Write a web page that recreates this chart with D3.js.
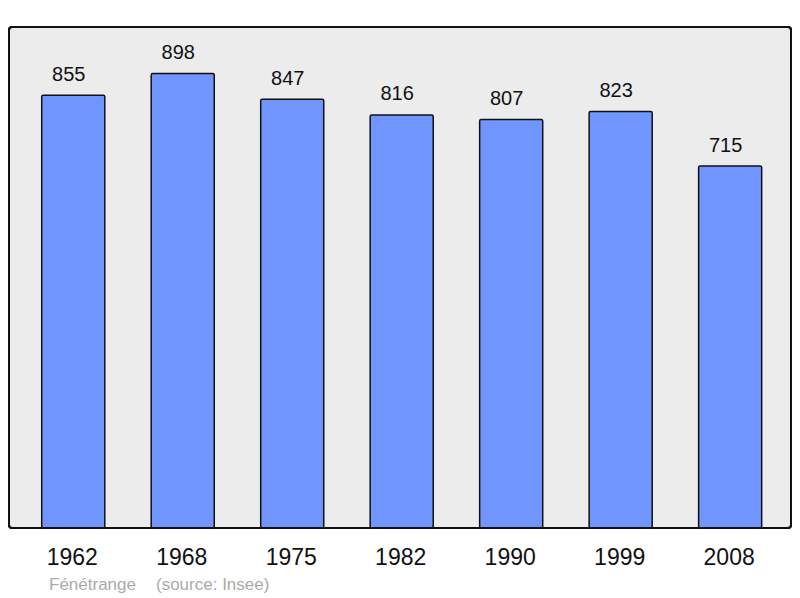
<!DOCTYPE html>
<html><head><meta charset="utf-8">
<script src="https://cdn.jsdelivr.net/npm/d3@7"></script>
<style>body{margin:0;background:#fff}svg{display:block}</style>
</head><body>
<script>
const years = ["1962","1968","1975","1982","1990","1999","2008"];
const population = [855, 898, 847, 816, 807, 823, 715];
const commune = "Fénétrange";
const source = "(source: Insee)";

const W = 800, H = 598;
const svg = d3.select("body").append("svg").attr("width", W).attr("height", H);
const box = {x0: 9, y0: 27, x1: 791, y1: 528};

svg.append("rect").attr("x", box.x0).attr("y", box.y0)
  .attr("width", box.x1 - box.x0).attr("height", box.y1 - box.y0)
  .attr("rx", 3).attr("fill", "#ececec").attr("stroke", "#111").attr("stroke-width", 2);

const x = d3.scaleBand().domain(years).range([14.35, 789.05]).paddingInner(0.424).paddingOuter(0.25);
const y = d3.scaleLinear().domain([0, d3.max(population) * 1.1]).range([box.y1, box.y1 - 500]);

const data = years.map((yr, i) => ({yr, v: population[i]}));

svg.selectAll("rect.bar").data(data).join("rect").attr("class", "bar")
  .attr("x", d => x(d.yr)).attr("y", d => y(d.v))
  .attr("width", x.bandwidth()).attr("height", d => y(0) - y(d.v))
  .attr("rx", 1.5).attr("fill", "#7095ff").attr("stroke", "#111").attr("stroke-width", 1.5);

svg.selectAll("text.val").data(data).join("text").attr("class", "val")
  .attr("x", d => x(d.yr) + x.bandwidth() / 2 - 4.5).attr("y", d => y(d.v) - 14.5)
  .attr("text-anchor", "middle").attr("font-family", "Liberation Sans, Arial, sans-serif")
  .attr("font-size", 20).attr("fill", "#111").text(d => d.v);

svg.append("rect").attr("x", box.x0).attr("y", box.y0)
  .attr("width", box.x1 - box.x0).attr("height", box.y1 - box.y0)
  .attr("rx", 3).attr("fill", "none").attr("stroke", "#111").attr("stroke-width", 2);

const xAxis = d3.axisBottom(x).tickSize(0).tickPadding(0);
const ax = svg.append("g").attr("transform", `translate(0,${box.y1})`).call(xAxis);
ax.select(".domain").remove();
ax.selectAll("text").attr("font-family", "Liberation Sans, Arial, sans-serif")
  .attr("font-size", 23).attr("fill", "#111").attr("dy", null).attr("y", 37).attr("x", -1);

svg.append("text").attr("x", 49).attr("y", 590)
  .attr("font-family", "Liberation Sans, Arial, sans-serif").attr("font-size", 17)
  .attr("fill", "#aaa").text(commune);
svg.append("text").attr("x", 156).attr("y", 590)
  .attr("font-family", "Liberation Sans, Arial, sans-serif").attr("font-size", 17)
  .attr("fill", "#aaa").text(source);
</script>
</body></html>
